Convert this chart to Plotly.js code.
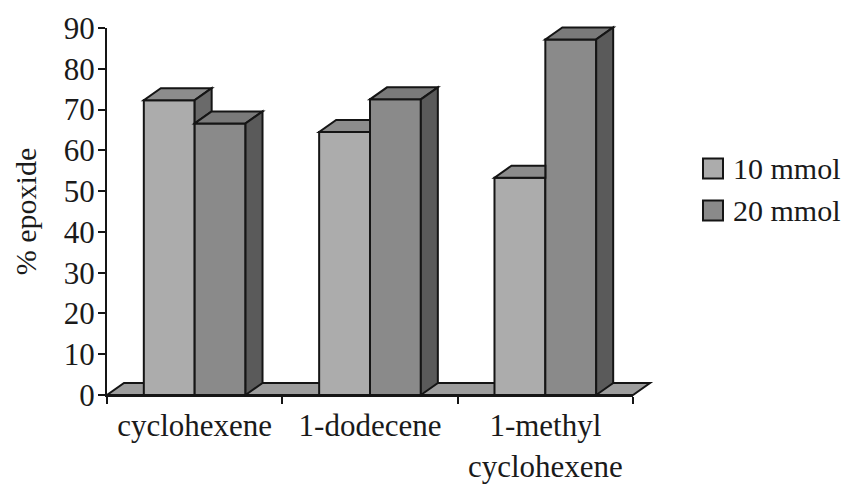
<!DOCTYPE html>
<html>
<head>
<meta charset="utf-8">
<script src="https://cdn.plot.ly/plotly-3.0.1.min.js"></script>
<style>html,body{margin:0;padding:0;background:#fff}</style>
</head>
<body>
<div id="chart" style="width:849px;height:485px"></div>
<script>
// Epoxide yield for three alkenes at two oxidant amounts
const categories = ['cyclohexene', '1-dodecene', '1-methyl<br>cyclohexene'];
const seriesNames = ['10 mmol', '20 mmol'];
const epoxide10 = [72.3, 64.5, 53.3];
const epoxide20 = [66.6, 72.5, 87.2];
const yTickVals = [0, 10, 20, 30, 40, 50, 60, 70, 80, 90];

// Page and plot geometry
const W = 849, H = 485;
const M = {l: 107, r: 216, t: 28, b: 90};
const plotW = W - M.l - M.r, plotH = H - M.t - M.b;
const xRange = [-0.5, categories.length - 0.5];
const yRange = [0, 90];

// Pseudo-3D depth, in pixels, converted to axis units
const DEPTH_X = 17, DEPTH_Y = 12;
const ddx = DEPTH_X * (xRange[1] - xRange[0]) / plotW;
const ddy = DEPTH_Y * (yRange[1] - yRange[0]) / plotH;
const BW = 0.29;

const FONT = 'Liberation Serif, Times New Roman, serif';
const INK = '#151515';
const TEXT = '#1a1a1a';
const colors = {
  front: ['#acacac', '#8a8a8a'],
  top: ['#8c8c8c', '#7a7a7a'],
  side: ['#6a6a6a', '#5a5a5a'],
  floor: '#9d9d9d'
};

// Axis values -> paper fractions, so faces poking past the plot edge are not clipped
const px = x => (x - xRange[0]) / (xRange[1] - xRange[0]);
const py = y => (y - yRange[0]) / (yRange[1] - yRange[0]);

function face(pts, fill, layer) {
  return {type: 'path', xref: 'paper', yref: 'paper', layer: layer || 'above',
          path: 'M' + pts.map(p => px(p[0]) + ',' + py(p[1])).join('L') + 'Z',
          fillcolor: fill, line: {color: INK, width: 2}};
}

const shapes = [];

// Floor under the columns
shapes.push(face([
  [xRange[0], 0], [xRange[1], 0],
  [xRange[1] + ddx, ddy], [xRange[0] + ddx, ddy]
], colors.floor, 'below'));

// Top and side faces of each column pair
categories.forEach((c, i) => {
  const a = epoxide10[i], b = epoxide20[i];
  const x0 = i - BW, x1 = i, x2 = i + BW;
  // 10 mmol column: top face, cut where the 20 mmol column stands in front
  if (b >= a) {
    shapes.push(face([[x0, a], [x1, a], [x1, a + ddy], [x0 + ddx, a + ddy]], colors.top[0]));
  } else {
    shapes.push(face([[x0, a], [x1, a], [x1 + ddx, a + ddy], [x0 + ddx, a + ddy]], colors.top[0]));
    shapes.push(face([[x1, b], [x1 + ddx, b + ddy], [x1 + ddx, a + ddy], [x1, a]], colors.side[0]));
  }
  // 20 mmol column: top face and right side face
  shapes.push(face([[x1, b], [x2, b], [x2 + ddx, b + ddy], [x1 + ddx, b + ddy]], colors.top[1]));
  shapes.push(face([[x2, 0], [x2 + ddx, ddy], [x2 + ddx, b + ddy], [x2, b]], colors.side[1]));
});

// Legend keys
const toPX = p => (p - M.l) / plotW;
const toPY = p => (H - M.b - p) / plotH;
const annotations = [];
seriesNames.forEach((name, k) => {
  const cy = 168.5 + k * 42;
  shapes.push({type: 'rect', xref: 'paper', yref: 'paper',
    x0: toPX(703), x1: toPX(723), y0: toPY(cy + 10), y1: toPY(cy - 10),
    fillcolor: colors.front[k], line: {color: INK, width: 2}});
  annotations.push({xref: 'paper', yref: 'paper', x: toPX(731), y: toPY(cy),
    xanchor: 'left', yanchor: 'middle', showarrow: false, text: name,
    font: {family: FONT, size: 30, color: TEXT}});
});

const xs = categories.map((c, i) => i);
const traces = [epoxide10, epoxide20].map((vals, k) => ({
  type: 'bar', name: seriesNames[k], x: xs, y: vals,
  width: BW, offset: k === 0 ? -BW : 0,
  marker: {color: colors.front[k], line: {color: INK, width: 2}},
  hoverinfo: 'skip', showlegend: false
}));

const layout = {
  width: W, height: H,
  margin: M,
  paper_bgcolor: '#ffffff',
  plot_bgcolor: 'rgba(0,0,0,0)',
  barmode: 'overlay',
  showlegend: false,
  font: {family: FONT, color: TEXT},
  xaxis: {
    range: xRange, showgrid: false, zeroline: false,
    showline: true, linecolor: INK, linewidth: 2,
    tickmode: 'array', tickvals: xs, ticktext: categories,
    ticks: '', tickfont: {family: FONT, size: 31, color: TEXT},
    ticklabelstandoff: 2,
    minor: {tickmode: 'array', tickvals: [-0.5, 0.5, 1.5, 2.5], ticks: 'outside',
            ticklen: 7, tickwidth: 2, tickcolor: INK, showgrid: false}
  },
  yaxis: {
    range: yRange, showgrid: false, zeroline: false,
    showline: true, linecolor: INK, linewidth: 2,
    tickmode: 'array', tickvals: yTickVals,
    ticks: 'outside', ticklen: 7, tickwidth: 2, tickcolor: INK,
    ticklabelstandoff: -3,
    tickfont: {family: FONT, size: 31, color: TEXT},
    title: {text: '% epoxide', font: {family: FONT, size: 30, color: TEXT}}
  },
  shapes: shapes,
  annotations: annotations
};

Plotly.newPlot('chart', traces, layout, {staticPlot: true});
</script>
</body>
</html>
